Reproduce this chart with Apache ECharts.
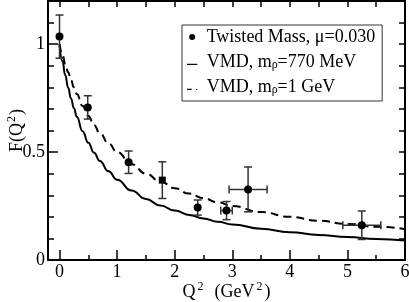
<!DOCTYPE html>
<html>
<head>
<meta charset="utf-8">
<script src="https://cdn.jsdelivr.net/npm/echarts@6/dist/echarts.min.js"></script>
<style>html,body{margin:0;padding:0;background:#fff}#c{width:409px;height:302px}</style>
</head>
<body>
<div id="c"></div>
<script>
// ---- data ----
const q2 = [0, 0.49, 1.2, 1.785, 2.40, 2.90, 3.275, 5.25];
const ff = [1.035, 0.707, 0.453, 0.37, 0.243, 0.229, 0.327, 0.161];
const ffErr = [0.10, 0.054, 0.052, 0.085, 0.035, 0.042, 0.104, 0.066];
const q2Err = [0, 0, 0, 0, 0, 0.10, 0.33, 0.33];

const curveQ2 = [0, 0.05, 0.1, 0.15, 0.2, 0.25, 0.3, 0.4, 0.5, 0.6, 0.7, 0.85, 1, 1.25, 1.5, 1.75, 2, 2.25, 2.5, 2.75, 3, 3.5, 4, 4.5, 5, 5.5, 6];
const vmd770 = [1, 0.922, 0.856, 0.798, 0.748, 0.703, 0.664, 0.597, 0.543, 0.497, 0.459, 0.411, 0.372, 0.322, 0.283, 0.253, 0.229, 0.209, 0.192, 0.177, 0.165, 0.145, 0.129, 0.116, 0.106, 0.097, 0.090];
const vmd1000 = [1, 0.952, 0.909, 0.870, 0.833, 0.8, 0.769, 0.714, 0.667, 0.625, 0.588, 0.541, 0.5, 0.444, 0.4, 0.364, 0.333, 0.308, 0.286, 0.267, 0.25, 0.222, 0.2, 0.182, 0.167, 0.154, 0.143];

const xLabels = [0, 1, 2, 3, 4, 5, 6];
const xMinor = [0.5, 1.5, 2.5, 3.5, 4.5, 5.5];
const xTop = [0, 0.5, 1, 1.5, 2, 2.5, 3, 3.5, 4, 4.5, 5, 5.5, 6];
const yLabels = [0, 0.5, 1];
const yMinor = [0.1, 0.2, 0.3, 0.4, 0.6, 0.7, 0.8, 0.9, 1.1];
const yRight = [0, 0.1, 0.2, 0.3, 0.4, 0.5, 0.6, 0.7, 0.8, 0.9, 1.0, 1.1];

const names = ['Twisted Mass, μ=0.030', 'VMD, mρ=770 MeV', 'VMD, mρ=1 GeV'];
const legendText = {
  'Twisted Mass, μ=0.030': '{g|}Twisted Mass, μ=0.030',
  'VMD, mρ=770 MeV': '{g|}VMD, m{s|ρ}=770 MeV',
  'VMD, mρ=1 GeV': '{g|}VMD, m{s|ρ}=1 GeV'
};

const FONT = 'Liberation Serif';
const chart = echarts.init(document.getElementById('c'));

const pts = q2.map((x, i) => ({
  value: [x, ff[i]],
  symbol: i === 3 ? 'rect' : 'circle',
  symbolSize: i === 3 ? 7 : 8
}));
const errData = q2.map((x, i) => [x, ff[i], ff[i] - ffErr[i], ff[i] + ffErr[i], x - q2Err[i], x + q2Err[i]]);

const baseX = {type: 'value', min: -0.2, max: 6, splitLine: {show: false}};
const baseY = {type: 'value', min: 0, max: 1.2, splitLine: {show: false}};

// legend icons: tiny speck at top-left fixes the box so the stroke sits on the baseline
const ICON_SOLID = 'path://M0,0h0.01v0.01h-0.01z M0,6h13v1.6h-13z';
const ICON_DASH = 'path://M0,0h0.01v0.01h-0.01z M0,6h6v1.6h-6z M11.5,6.2h1.5v1.4h-1.5z';

chart.setOption({
  animation: false,
  backgroundColor: '#fff',
  grid: {left: 48, right: 4, top: 1, bottom: 42, containLabel: false, outerBoundsMode: 'none'},
  xAxis: [
    Object.assign({}, baseX, {
      position: 'bottom',
      name: 'Q{sup|2}  (GeV{sup|2})',
      nameLocation: 'middle', nameGap: 21, nameMoveOverlap: false,
      nameTextStyle: {fontFamily: FONT, fontSize: 18, color: '#000', verticalAlign: 'top',
        rich: {sup: {fontFamily: FONT, fontSize: 12, verticalAlign: 'top', padding: [0, 2, 10, 2]}}},
      axisLine: {onZero: false, lineStyle: {color: '#000', width: 2}},
      axisTick: {inside: true, length: 10, customValues: xLabels, lineStyle: {color: '#000', width: 1.5}},
      axisLabel: {customValues: xLabels, fontFamily: FONT, fontSize: 18, color: '#000', margin: 3}
    }),
    Object.assign({}, baseX, {
      position: 'bottom',
      axisLine: {show: false, onZero: false},
      axisTick: {inside: true, length: 5, customValues: xMinor, lineStyle: {color: '#000', width: 1.5}},
      axisLabel: {show: false}
    }),
    Object.assign({}, baseX, {
      position: 'top',
      axisLine: {onZero: false, lineStyle: {color: '#000', width: 2}},
      axisTick: {inside: true, length: 6, customValues: xTop, lineStyle: {color: '#000', width: 1.5}},
      axisLabel: {show: false}
    })
  ],
  yAxis: [
    Object.assign({}, baseY, {
      position: 'left',
      name: 'F(Q{sup|2})',
      nameLocation: 'middle', nameGap: 20, nameRotate: 90, nameMoveOverlap: false,
      nameTextStyle: {fontFamily: FONT, fontSize: 18, color: '#000',
        rich: {sup: {fontFamily: FONT, fontSize: 12, verticalAlign: 'top', padding: [0, 1, 10, 1]}}},
      axisLine: {onZero: false, lineStyle: {color: '#000', width: 2}},
      axisTick: {inside: true, length: 10, customValues: yLabels, lineStyle: {color: '#000', width: 1.5}},
      axisLabel: {customValues: yLabels, fontFamily: FONT, fontSize: 18, color: '#000', margin: 3}
    }),
    Object.assign({}, baseY, {
      position: 'left',
      axisLine: {show: false, onZero: false},
      axisTick: {inside: true, length: 6, customValues: yMinor, lineStyle: {color: '#000', width: 1.5}},
      axisLabel: {show: false}
    }),
    Object.assign({}, baseY, {
      position: 'right',
      axisLine: {onZero: false, lineStyle: {color: '#000', width: 2}},
      axisTick: {inside: true, length: 6, customValues: yRight, lineStyle: {color: '#000', width: 1.5}},
      axisLabel: {show: false}
    })
  ],
  legend: {
    orient: 'vertical', left: 182, top: 25,
    backgroundColor: '#fff', borderColor: '#333', borderWidth: 1,
    padding: [3, 7, 5, 5], itemGap: 3, itemWidth: 13, itemHeight: 6,
    formatter: n => legendText[n],
    textStyle: {fontFamily: FONT, fontSize: 18, color: '#000',
      rich: {g: {width: 3}, s: {fontFamily: FONT, fontSize: 12, lineHeight: 12, verticalAlign: 'bottom', padding: [10, 0, 0, 0]}}},
    data: [
      {name: names[0], icon: 'circle', itemStyle: {color: '#000', opacity: 1}},
      {name: names[1], icon: ICON_SOLID, itemStyle: {color: '#000', opacity: 1}},
      {name: names[2], icon: ICON_DASH, itemStyle: {color: '#000', opacity: 1}}
    ]
  },
  series: [
    {
      name: names[1], type: 'line', xAxisIndex: 0, yAxisIndex: 0,
      data: curveQ2.map((x, i) => [x, vmd770[i]]),
      showSymbol: false, symbol: 'none', smooth: 0.5, smoothMonotone: 'x',
      lineStyle: {color: '#000', width: 2}, itemStyle: {color: '#000'}, z: 2
    },
    {
      name: names[2], type: 'line', xAxisIndex: 0, yAxisIndex: 0,
      data: curveQ2.map((x, i) => [x, vmd1000[i]]),
      showSymbol: false, symbol: 'none', smooth: 0.5, smoothMonotone: 'x',
      lineStyle: {color: '#000', width: 2, type: [8, 5]}, itemStyle: {color: '#000'}, z: 2
    },
    {
      type: 'custom', xAxisIndex: 0, yAxisIndex: 0, z: 3,
      data: errData,
      renderItem: function (params, api) {
        const c = api.coord([api.value(0), api.value(1)]);
        const lo = api.coord([api.value(0), api.value(2)]);
        const hi = api.coord([api.value(0), api.value(3)]);
        const xl = api.coord([api.value(4), api.value(1)]);
        const xh = api.coord([api.value(5), api.value(1)]);
        const st = {stroke: '#333', lineWidth: 1.5, fill: null};
        const cap = 4;
        const ch = [
          {type: 'line', shape: {x1: c[0], y1: lo[1], x2: c[0], y2: hi[1]}, style: st},
          {type: 'line', shape: {x1: c[0] - cap, y1: lo[1], x2: c[0] + cap, y2: lo[1]}, style: st},
          {type: 'line', shape: {x1: c[0] - cap, y1: hi[1], x2: c[0] + cap, y2: hi[1]}, style: st}
        ];
        if (api.value(5) - api.value(4) > 0) {
          ch.push({type: 'line', shape: {x1: xl[0], y1: c[1], x2: xh[0], y2: c[1]}, style: st});
          ch.push({type: 'line', shape: {x1: xl[0], y1: c[1] - cap, x2: xl[0], y2: c[1] + cap}, style: st});
          ch.push({type: 'line', shape: {x1: xh[0], y1: c[1] - cap, x2: xh[0], y2: c[1] + cap}, style: st});
        }
        return {type: 'group', children: ch};
      }
    },
    {
      name: names[0], type: 'scatter', xAxisIndex: 0, yAxisIndex: 0, z: 4,
      data: pts, symbol: 'circle', symbolSize: 8,
      itemStyle: {color: '#000', opacity: 1}
    }
  ]
});
</script>
</body>
</html>
